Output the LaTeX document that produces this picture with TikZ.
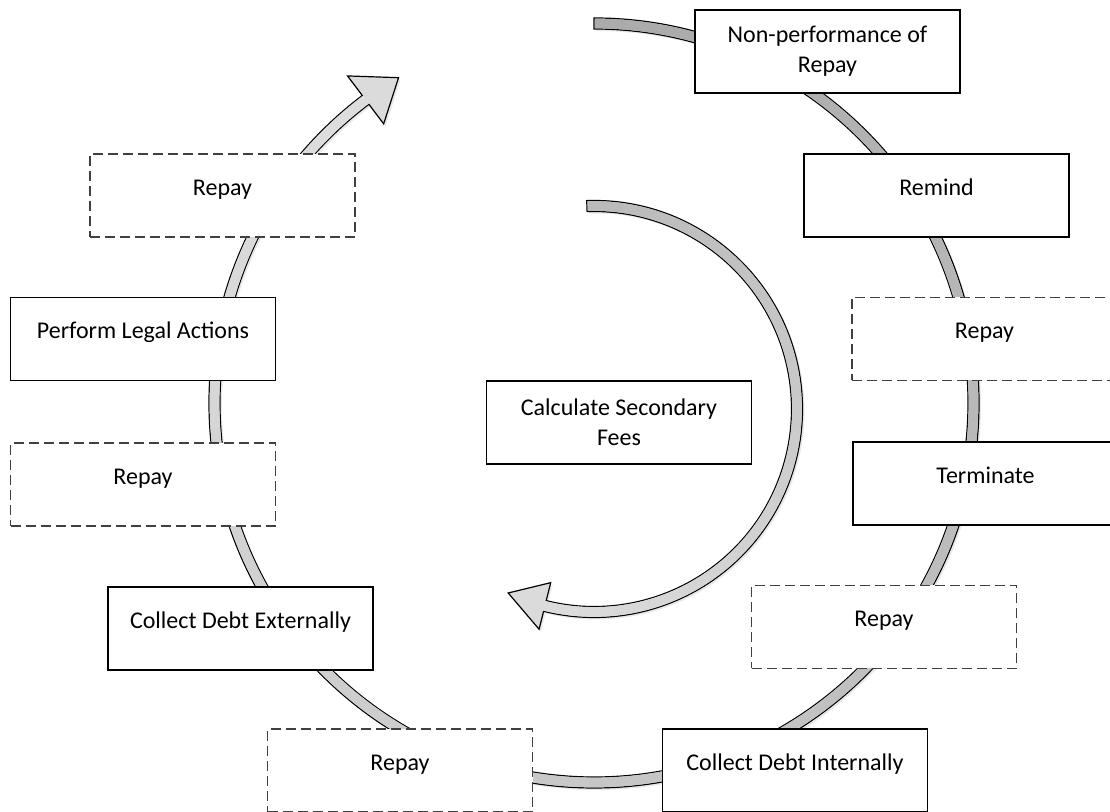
\documentclass[tikz,border=0pt]{standalone}
\usepackage{fontspec}
\setmainfont{Carlito}
\usetikzlibrary{calc, shadows}

\begin{document}
\begin{tikzpicture}[x=0.5pt, y=0.5pt,
  box/.style={rectangle, draw, fill=white, line width=0.6pt, minimum width=132.5pt,
    minimum height=41.5pt, inner sep=0pt, align=center,
    font=\fontsize{12}{15}\selectfont},
  alt/.style={box, draw=black!75, dash pattern=on 5pt off 2.5pt},
  solo/.style={text height=8pt, text depth=8pt},
  band/.style={draw, line width=0.6pt, fill=gray!28, line join=miter,
    drop shadow={opacity=0.18, shadow xshift=1pt, shadow yshift=-1pt}}]

  \useasboundingbox (0,0) rectangle (1110,812);

  % outer cycle
  \begin{scope}[shift={(594,409)}]
    \path[band] (90:385) arc[start angle=90, end angle=-233, radius=385]
      -- (-233:409.5) -- (-239:379.5) -- (-233:349.5) -- (-233:374)
      arc[start angle=-233, end angle=90, radius=374] -- cycle;
    \foreach \i [evaluate=\i as \s using 89.85-9.5*\i,
                 evaluate=\i as \c using 66-1.2*\i] in {0,...,33}
      \fill[gray!\c] (\s:384.4) arc[start angle=\s, end angle=\s-9.6, radius=384.4]
        -- (\s-9.6:374.6) arc[start angle=\s-9.6, end angle=\s, radius=374.6] -- cycle;
  \end{scope}

  % inner arrow
  \begin{scope}[shift={(594,403)}]
    \path[band] (92:208.5) arc[start angle=92, end angle=-104, radius=208.5]
      -- (-104:227) -- (-115:203) -- (-104:179) -- (-104:197.5)
      arc[start angle=-104, end angle=92, radius=197.5] -- cycle;
    \foreach \i [evaluate=\i as \s using 91.8-9.8*\i,
                 evaluate=\i as \c using 54-1.4*\i] in {0,...,19}
      \fill[gray!\c] (\s:207.9) arc[start angle=\s, end angle=\s-9.9, radius=207.9]
        -- (\s-9.9:198.1) arc[start angle=\s-9.9, end angle=\s, radius=198.1] -- cycle;
  \end{scope}

  \node[box] (nonperf) at (827.5,760.5) {Non-performance of\\Repay};
  \node[box, solo] (remind) at (936.5,616.5) {Remind};
  \node[alt, solo] (repayA) at (984.5,473) {Repay};
  \node[box, solo] (terminate) at (985.5,328.5) {Terminate};
  \node[alt, solo] (repayB) at (884,185) {Repay};
  \node[box, solo] (internal) at (795,41.5) {Collect Debt Internally};
  \node[alt, solo] (repayC) at (400,41.5) {Repay};
  \node[box, solo] (external) at (240.5,183.5) {Collect Debt Externally};
  \node[alt, solo] (repayD) at (143,327.5) {Repay};
  \node[box, solo] (legal) at (143,473) {Perform Legal Actions};
  \node[alt, solo] (repayE) at (222.5,616.5) {Repay};
  \node[box] (fees) at (619,389.5) {Calculate Secondary\\Fees};
\end{tikzpicture}
\end{document}
